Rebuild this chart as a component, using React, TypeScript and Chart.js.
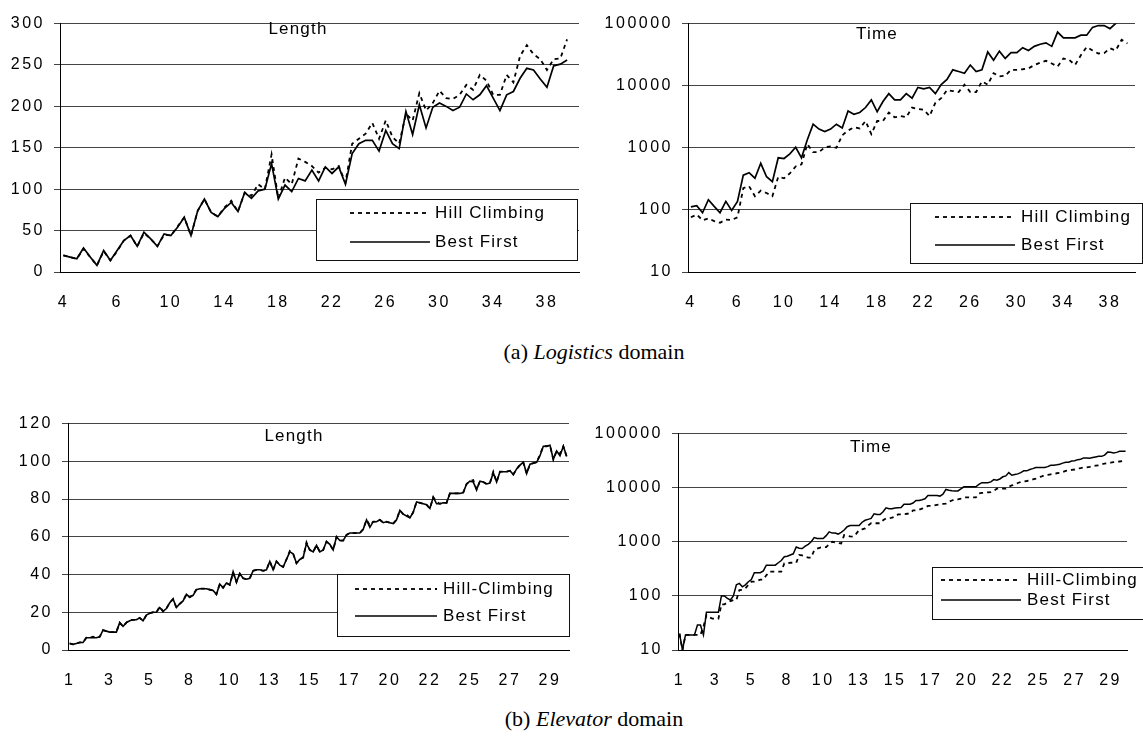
import React, { useEffect, useRef } from 'react';
import { Chart, registerables } from 'chart.js';

Chart.register(...registerables);

const SANS = '"Liberation Sans", Arial, Helvetica, sans-serif';
const SERIF = '"Liberation Serif", "Times New Roman", Times, serif';

// ---------- Logistics domain ----------
const logisticsSizes = [
  4, 4, 4, 4, 5, 5, 5, 5, 6, 6, 7, 7, 8, 8, 9, 9, 10, 10, 11, 11, 12, 12, 13, 13, 14, 14,
  15, 15, 16, 16, 17, 17, 18, 18, 19, 19, 20, 20, 21, 21, 22, 22, 23, 23, 24, 24, 25, 25,
  26, 26, 27, 27, 28, 28, 29, 29, 30, 30, 31, 31, 32, 32, 33, 33, 34, 34, 35, 35, 36, 36,
  37, 37, 38, 38, 39, 39,
];

const logisticsLengthHC = [
  20, 18, 16, 28, 18, 8, 25, 14, 25, 38,
  44, 31, 47, 40, 31, 45, 44, 55, 66, 44,
  74, 88, 72, 67, 78, 86, 73, 96, 92, 106,
  100, 142, 89, 114, 106, 137, 133, 128, 120, 126,
  124, 128, 108, 155, 161, 167, 180, 161, 183, 163,
  155, 191, 183, 216, 195, 204, 219, 210, 209, 214,
  226, 220, 238, 231, 214, 214, 238, 229, 261, 274,
  263, 257, 244, 257, 258, 281,
];
const logisticsLengthBF = [
  20, 18, 16, 29, 18, 8, 26, 14, 26, 38,
  44, 31, 48, 40, 31, 46, 44, 54, 66, 44,
  74, 88, 72, 67, 77, 84, 73, 96, 89, 98,
  100, 131, 88, 105, 97, 113, 110, 123, 110, 127,
  119, 127, 106, 143, 155, 159, 159, 146, 171, 155,
  149, 194, 166, 202, 174, 199, 204, 200, 195, 199,
  215, 208, 214, 225, 210, 195, 214, 218, 234, 246,
  244, 233, 223, 249, 251, 256,
];

const logisticsTimeHC = [
  76, 84, 68, 73, 66, 62, 70, 69, 76, 224,
  240, 166, 204, 187, 166, 340, 323, 388, 500, 540,
  1150, 850, 850, 1020, 1050, 1000, 1590, 1900, 2140, 2050,
  2700, 1660, 2700, 2700, 3700, 3100, 3250, 3100, 4450, 4200,
  4100, 3250, 5300, 6300, 8500, 8200, 7900, 10400, 7900, 7900,
  11700, 10400, 15900, 14100, 14500, 18000, 18000, 18400, 19000, 21500,
  23500, 25200, 22800, 20300, 27500, 26000, 21500, 31000, 42000, 37000,
  33000, 33500, 40000, 37000, 55000, 48000,
];
const logisticsTimeBF = [
  112, 117, 90, 146, 114, 90, 137, 98, 137, 363,
  398, 324, 563, 342, 285, 690, 672, 800, 1020, 690,
  1350, 2400, 2000, 1830, 2000, 2400, 2080, 3900, 3470, 3700,
  4450, 5900, 3800, 5550, 7450, 5900, 5900, 7450, 6300, 9400,
  8900, 9400, 7450, 10400, 12600, 18000, 16900, 15900, 21500, 16900,
  18000, 35000, 25700, 36000, 27500, 34000, 34000, 41000, 37000, 43000,
  46500, 49000, 43000, 73000, 59000, 59000, 59000, 65000, 65000, 87000,
  93000, 93000, 83000, 101000, 120000, 135000,
];

// ---------- Elevator domain ----------
const elevatorSizes = [
  1, 1, 1, 1, 1, 2, 2, 2, 2, 2, 3, 3, 3, 3, 3, 4, 4, 4, 4, 4, 5, 5, 5, 5, 5,
  6, 6, 6, 6, 6, 7, 7, 7, 7, 7, 8, 8, 8, 8, 8, 9, 9, 9, 9, 9, 10, 10, 10, 10, 10,
  11, 11, 11, 11, 11, 12, 12, 12, 12, 12, 13, 13, 13, 13, 13, 14, 14, 14, 14, 14,
  15, 15, 15, 15, 15, 16, 16, 16, 16, 16, 17, 17, 17, 17, 17, 18, 18, 18, 18, 18,
  19, 19, 19, 19, 19, 20, 20, 20, 20, 20, 21, 21, 21, 21, 21, 22, 22, 22, 22, 22,
  23, 23, 23, 23, 23, 24, 24, 24, 24, 24, 25, 25, 25, 25, 25, 26, 26, 26, 26, 26,
  27, 27, 27, 27, 27, 28, 28, 28, 28, 28, 29, 29, 29, 29, 29, 30, 30, 30, 30, 30,
];

const elevatorLengthBF = [
  3.5, 3, 3.5, 4, 4, 6.5, 6.5, 6.5, 6.5, 7,
  10.5, 10, 9.5, 9.5, 9.5, 14.5, 12.5, 14.5, 15.5, 16,
  16, 17, 15.5, 18.5, 19.5, 20, 20, 22.5, 20.5, 22,
  25, 27, 22.5, 24.5, 26, 29.5, 28, 29, 32, 32.5,
  32.5, 32.5, 32, 31.5, 29.5, 35, 33, 35.5, 34.5, 41.5,
  36, 40.5, 38, 37.5, 38, 42, 42.5, 42.5, 42, 42.5,
  47, 42.5, 47, 45, 44, 48, 52, 51, 46, 48,
  49, 56.5, 53, 52, 55.5, 52, 53, 57.5, 56, 53,
  60, 58, 58, 61, 62, 62, 62, 62, 64, 69,
  65, 68, 68, 69, 67.5, 68, 67.5, 67, 69, 74,
  72, 71, 70, 73, 78.5, 78, 77.5, 77, 75, 81,
  77.5, 77.5, 78, 78, 83, 83, 83, 83, 83.5, 88,
  89.5, 89, 85, 89.5, 89, 88, 88.5, 94, 89, 94.5,
  94.5, 94.5, 95, 93, 96, 98, 99.5, 93.5, 98.5, 99,
  99.5, 103, 108, 108, 108.5, 101, 105.5, 103, 108, 102.5,
];
const elevatorLengthHC = [
  3.5, 3, 3.5, 4, 4, 6.5, 6.5, 7, 6.5, 7,
  10.5, 10, 9.5, 9.5, 9.5, 14.5, 12.5, 14.5, 16, 16,
  16, 17, 15.5, 18.5, 19.5, 20, 20, 23, 20.5, 22,
  25, 27, 22.5, 24.5, 26, 29.5, 28, 29.5, 32, 32.5,
  32.5, 32.5, 32, 31.5, 29.5, 35, 33, 35.5, 34.5, 41,
  36, 40.5, 38, 37.5, 38, 42, 42.5, 42.5, 42, 42.5,
  47, 42.5, 47, 45, 44, 48, 52.5, 51, 46, 48,
  49, 57, 53, 52, 55.5, 52, 53, 57.5, 56, 53,
  60, 58, 58, 61, 62, 62, 62, 62, 64, 69,
  66, 68, 68, 69, 67.5, 68, 67.5, 67, 69, 74,
  72, 72, 70, 73, 78.5, 78, 77.5, 77, 75, 81,
  78.5, 77.5, 78, 78, 83, 83, 83, 83, 83.5, 88,
  89.5, 90, 85, 89.5, 89, 88, 88.5, 94.5, 89, 94.5,
  94.5, 94.5, 95, 93, 96, 98, 99.5, 93.5, 98.5, 99,
  99.5, 103.5, 108, 108, 108.5, 101, 105.5, 104, 108, 102.5,
];

const elevatorTimeHC = [
  20, 10, 19, 19, 19, 19, 19, 19, 27, 44,
  40, 38, 38, 38, 70, 70, 75, 80, 84, 84,
  128, 130, 137, 160, 183, 183, 190, 200, 200, 240,
  280, 280, 280, 280, 280, 400, 400, 410, 410, 410,
  570, 560, 530, 510, 510, 700, 750, 780, 800, 800,
  900, 1000, 980, 950, 930, 1330, 1300, 1260, 1240, 1400,
  1650, 1700, 1770, 2000, 2200, 2200, 2200, 2200, 2500, 2700,
  2700, 2800, 2900, 3200, 3200, 3250, 3300, 3330, 3800, 3800,
  3900, 4100, 4300, 4600, 4600, 4700, 4800, 4900, 5000, 5100,
  5500, 5800, 6100, 6100, 6300, 6600, 6600, 6600, 6600, 6600,
  7800, 8000, 8100, 8200, 8300, 8800, 9600, 9600, 9600, 9600,
  10500, 11000, 11500, 12200, 12800, 13000, 13300, 13700, 14200, 14700,
  15500, 16200, 17000, 17300, 17700, 18000, 18500, 18800, 19500, 20500,
  21000, 21300, 21700, 22500, 23000, 23600, 23800, 24200, 25000, 25500,
  26000, 27000, 28000, 28500, 29000, 29600, 30000, 30500, 31000, 31000,
];
const elevatorTimeBF = [
  20, 10, 19, 19, 19, 19, 29, 29, 19, 50,
  50, 50, 50, 50, 100, 100, 90, 84, 100, 160,
  170, 147, 160, 183, 200, 268, 268, 268, 290, 370,
  370, 370, 370, 410, 450, 530, 540, 570, 600, 800,
  760, 750, 830, 900, 1000, 1200, 1150, 1150, 1150, 1300,
  1530, 1450, 1450, 1390, 1500, 1650, 1900, 2000, 2000, 2000,
  2000, 2300, 2500, 2600, 2700, 3300, 3200, 3200, 3600, 4250,
  4100, 4100, 4200, 4250, 4300, 4950, 4950, 4950, 5200, 5800,
  5800, 6000, 6250, 7200, 7200, 7200, 7200, 7000, 7600, 9300,
  9000, 8800, 8700, 8700, 9500, 10400, 10400, 10400, 10400, 10400,
  11500, 12400, 12400, 12400, 12800, 14100, 13800, 14500, 15900, 16500,
  19000, 17000, 17500, 18000, 19000, 20500, 20500, 21700, 22500, 23600,
  23600, 23600, 23600, 24500, 26000, 26000, 26500, 27200, 28500, 29600,
  29600, 31200, 31500, 33000, 33500, 35500, 35500, 35000, 36000, 37000,
  38000, 38000, 40000, 45500, 45000, 43700, 45000, 47000, 47000, 47000,
];

const timeTicks = [10, 100, 1000, 10000, 100000];

// ---------- chart specs ----------
type Box = { left: number; top: number; right: number; bottom: number };
type Spec = {
  canvas: { left: number; top: number; width: number; height: number };
  area: Box;
  sizes: number[];
  labelEvery: number;
  xMax: number;
  hc: number[];
  bf: number[];
  hcLabel: string;
  bfLabel: string;
  yType: 'linear' | 'logarithmic';
  yMin: number;
  yMax: number;
  yStep?: number;
  title: { text: string; x: number; y: number };
  legend: Box & { x1: number; x2: number; tx: number; rows: [number, number] };
  lw: number;
};

const specs: Spec[] = [
  {
    canvas: { left: 0, top: 5, width: 586, height: 312 },
    area: { left: 60, top: 17, right: 579, bottom: 272 },
    sizes: logisticsSizes, labelEvery: 8, xMax: 76.77,
    hc: logisticsLengthHC, bf: logisticsLengthBF,
    hcLabel: 'Hill Climbing', bfLabel: 'Best First',
    yType: 'linear', yMin: 0, yMax: 300, yStep: 50,
    title: { text: 'Length', x: 298, y: 29 },
    legend: { left: 316, top: 199, right: 577, bottom: 260, x1: 350, x2: 430, tx: 435, rows: [213, 242] },
    lw: 1.7,
  },
  {
    canvas: { left: 586, top: 5, width: 557, height: 312 },
    area: { left: 688, top: 20, right: 1135, bottom: 272 },
    sizes: logisticsSizes, labelEvery: 8, xMax: 76.3,
    hc: logisticsTimeHC, bf: logisticsTimeBF,
    hcLabel: 'Hill Climbing', bfLabel: 'Best First',
    yType: 'logarithmic', yMin: 10, yMax: 100000,
    title: { text: 'Time', x: 877, y: 34 },
    legend: { left: 910, top: 203, right: 1142, bottom: 263, x1: 935, x2: 1015, tx: 1021, rows: [217, 245] },
    lw: 1.7,
  },
  {
    canvas: { left: 0, top: 405, width: 586, height: 290 },
    area: { left: 68, top: 421, right: 569, bottom: 650 },
    sizes: elevatorSizes, labelEvery: 12, xMax: 149.7,
    hc: elevatorLengthHC, bf: elevatorLengthBF,
    hcLabel: 'Hill-Climbing', bfLabel: 'Best First',
    yType: 'linear', yMin: 0, yMax: 120, yStep: 20,
    title: { text: 'Length', x: 294, y: 436 },
    legend: { left: 337, top: 574, right: 569, bottom: 636, x1: 355, x2: 437, tx: 443, rows: [589, 616] },
    lw: 1.6,
  },
  {
    canvas: { left: 586, top: 415, width: 557, height: 280 },
    area: { left: 678, top: 433, right: 1143, bottom: 650 },
    sizes: elevatorSizes, labelEvery: 12, xMax: 149.5,
    hc: elevatorTimeHC, bf: elevatorTimeBF,
    hcLabel: 'Hill-Climbing', bfLabel: 'Best First',
    yType: 'logarithmic', yMin: 10, yMax: 100000,
    title: { text: 'Time', x: 871, y: 447 },
    legend: { left: 932, top: 567, right: 1160, bottom: 619, x1: 941, x2: 1021, tx: 1027, rows: [580, 600] },
    lw: 1.5,
  },
];

const TICK_SPACING = '2.5px';

const spacingPlugin = {
  id: 'letterSpacing',
  beforeUpdate(chart: any) { chart.ctx.letterSpacing = TICK_SPACING; },
  beforeDraw(chart: any) { chart.ctx.letterSpacing = TICK_SPACING; },
};

const overlayPlugin = {
  id: 'overlay',
  afterDraw(chart: any, _args: any, opts: any) {
    const s: Spec = opts.spec;
    if (!s) return;
    const ctx = chart.ctx as CanvasRenderingContext2D;
    const ox = s.canvas.left;
    const oy = s.canvas.top;
    ctx.save();
    (ctx as any).letterSpacing = '1.2px';
    ctx.font = `17px ${SANS}`;
    ctx.fillStyle = '#000';
    ctx.textAlign = 'center';
    ctx.textBaseline = 'middle';
    ctx.fillText(s.title.text, s.title.x - ox, s.title.y - oy);

    const L = s.legend;
    ctx.fillStyle = '#fff';
    ctx.fillRect(L.left - ox, L.top - oy, L.right - L.left, L.bottom - L.top);
    ctx.strokeStyle = '#111';
    ctx.lineWidth = 1;
    ctx.setLineDash([]);
    ctx.strokeRect(L.left - ox + 0.5, L.top - oy + 0.5, L.right - L.left, L.bottom - L.top);

    chart.data.datasets.forEach((ds: any, i: number) => {
      const y = L.rows[i] - oy;
      ctx.beginPath();
      ctx.setLineDash(ds.borderDash || []);
      ctx.lineWidth = ds.borderWidth;
      ctx.strokeStyle = '#000';
      ctx.moveTo(L.x1 - ox, y);
      ctx.lineTo(L.x2 - ox, y);
      ctx.stroke();
      ctx.setLineDash([]);
      ctx.fillStyle = '#000';
      ctx.textAlign = 'left';
      ctx.textBaseline = 'middle';
      ctx.fillText(ds.label, L.tx - ox, y);
    });
    ctx.restore();
  },
};

function buildConfig(s: Spec): any {
  const yAxisWidth = s.area.left - s.canvas.left;
  const padTop = s.area.top - s.canvas.top;
  const padRight = Math.max(0, s.canvas.left + s.canvas.width - s.area.right);
  const xAxisHeight = s.canvas.top + s.canvas.height - s.area.bottom;
  const tickIdx = s.sizes.map((_, i) => i).filter((i) => i % s.labelEvery === 0);
  const tickFont = { family: SANS, size: 16 };

  const yScale: any = {
    type: s.yType,
    min: s.yMin,
    max: s.yMax,
    grid: { color: '#444', lineWidth: 1, drawTicks: true, tickLength: 6, tickColor: '#444' },
    border: { display: true, color: '#000', width: 1 },
    ticks: {
      padding: 9,
      font: tickFont,
      color: '#000',
      autoSkip: false,
      callback: (v: any) => String(v),
    },
    afterFit: (sc: any) => { sc.width = yAxisWidth; },
  };
  if (s.yType === 'linear') {
    yScale.ticks.stepSize = s.yStep;
  } else {
    yScale.afterBuildTicks = (sc: any) => { sc.ticks = timeTicks.map((v) => ({ value: v })); };
  }

  return {
    type: 'line',
    data: {
      datasets: [
        {
          label: s.hcLabel,
          data: s.hc.map((y, i) => ({ x: i, y })),
          borderColor: '#000',
          borderWidth: 1.8,
          borderDash: [4, 4],
          pointRadius: 0,
          tension: 0,
          fill: false,
          order: 1,
        },
        {
          label: s.bfLabel,
          data: s.bf.map((y, i) => ({ x: i, y })),
          borderColor: '#000',
          borderWidth: s.lw,
          pointRadius: 0,
          tension: 0,
          fill: false,
          order: 0,
        },
      ],
    },
    options: {
      responsive: false,
      animation: false,
      devicePixelRatio: 1,
      events: [],
      layout: { padding: { top: padTop, right: padRight, left: 0, bottom: 0 } },
      plugins: {
        legend: { display: false },
        tooltip: { enabled: false },
        title: { display: false },
        overlay: { spec: s },
      },
      scales: {
        x: {
          type: 'linear',
          min: -0.5,
          max: s.xMax,
          grid: { display: false, drawTicks: false },
          border: { display: true, color: '#000', width: 1 },
          ticks: {
            autoSkip: false,
            maxRotation: 0,
            padding: 21,
            font: tickFont,
            color: '#000',
            callback: (v: any) => (s.sizes[v] !== undefined ? String(s.sizes[v]) : ''),
          },
          afterBuildTicks: (sc: any) => { sc.ticks = tickIdx.map((v) => ({ value: v })); },
          afterFit: (sc: any) => { sc.height = xAxisHeight; },
        },
        y: yScale,
      },
    },
    plugins: [spacingPlugin, overlayPlugin],
  };
}

function LineChart({ spec }: { spec: Spec }) {
  const ref = useRef<HTMLCanvasElement>(null);
  useEffect(() => {
    if (!ref.current) return;
    const chart = new Chart(ref.current, buildConfig(spec));
    return () => chart.destroy();
  }, [spec]);
  return (
    <canvas
      ref={ref}
      width={spec.canvas.width}
      height={spec.canvas.height}
      style={{
        position: 'absolute',
        left: spec.canvas.left,
        top: spec.canvas.top,
        width: spec.canvas.width,
        height: spec.canvas.height,
      }}
    />
  );
}

const captionStyle: React.CSSProperties = {
  position: 'absolute',
  left: 0,
  width: 1188,
  textAlign: 'center',
  fontFamily: SERIF,
  fontSize: 22,
  lineHeight: '26px',
  color: '#000',
  whiteSpace: 'nowrap',
};

export default function App() {
  return (
    <div
      style={{
        position: 'absolute',
        left: 0,
        top: 0,
        width: 1143,
        height: 736,
        background: '#fff',
        overflow: 'hidden',
      }}
    >
      {specs.map((s, i) => (
        <LineChart key={i} spec={s} />
      ))}
      <div style={{ ...captionStyle, top: 339 }}>
        (a) <i>Logistics</i> domain
      </div>
      <div style={{ ...captionStyle, top: 706 }}>
        (b) <i>Elevator</i> domain
      </div>
    </div>
  );
}
